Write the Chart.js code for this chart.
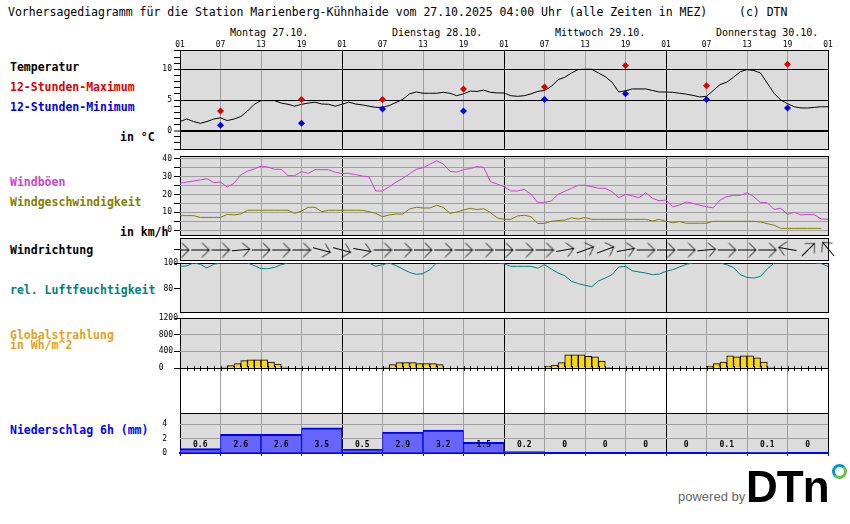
<!DOCTYPE html>
<html>
<head>
<meta charset="utf-8">
<script src="https://cdn.jsdelivr.net/npm/chart.js@4.4.1/dist/chart.umd.min.js"></script>
<style>
body { margin: 0; background: #fff; }
#seite { position: relative; width: 850px; height: 524px; overflow: hidden; font-family: 'DejaVu Sans Mono', monospace; }
#seite canvas { position: absolute; left: 0; }
.txt { position: absolute; white-space: pre; font-size: 11.5px; line-height: 14px; }
.lbl { position: absolute; white-space: pre; font-size: 11.5px; line-height: 14px; font-weight: bold; left: 10px; }
.tag { position: absolute; white-space: pre; font-size: 10px; line-height: 12px; top: 27px; }
</style>
</head>
<body>
<div id="seite">
  <div class="txt" style="left:8px;top:5px">Vorhersagediagramm für die Station Marienberg-Kühnhaide vom 27.10.2025 04:00 Uhr (alle Zeiten in MEZ)</div>
  <div class="txt" style="left:739px;top:5px">(c) DTN</div>

  <div class="tag" style="left:230px">Montag 27.10.</div>
  <div class="tag" style="left:392px">Dienstag 28.10.</div>
  <div class="tag" style="left:555px">Mittwoch 29.10.</div>
  <div class="tag" style="left:716px">Donnerstag 30.10.</div>

  <div class="lbl" style="top:60px;color:#000">Temperatur</div>
  <div class="lbl" style="top:80px;color:#e00000">12-Stunden-Maximum</div>
  <div class="lbl" style="top:100px;color:#0000e0">12-Stunden-Minimum</div>
  <div class="lbl" style="top:130px;left:120px;color:#000">in °C</div>
  <div class="lbl" style="top:175px;color:#cc44cc">Windböen</div>
  <div class="lbl" style="top:195px;color:#808000">Windgeschwindigkeit</div>
  <div class="lbl" style="top:225px;left:120px;color:#000">in km/h</div>
  <div class="lbl" style="top:243px;color:#000">Windrichtung</div>
  <div class="lbl" style="top:283px;color:#008080">rel. Luftfeuchtigkeit</div>
  <div class="lbl" style="top:328px;color:#e8a020">Globalstrahlung</div>
  <div class="lbl" style="top:338px;color:#e8a020">in Wh/m^2</div>
  <div class="lbl" style="top:423px;color:#0000ff">Niederschlag 6h (mm)</div>

  <canvas id="temp" width="850" height="140" style="top:20px"></canvas>
  <canvas id="wind" width="850" height="100" style="top:146px"></canvas>
  <canvas id="richtung" width="850" height="43" style="top:228px"></canvas>
  <canvas id="feuchte" width="850" height="70" style="top:253px"></canvas>
  <canvas id="strahlung" width="850" height="115" style="top:308px"></canvas>
  <canvas id="regen" width="850" height="60" style="top:403px"></canvas>

  <div style="position:absolute;left:678px;top:489px;font:13px 'Liberation Sans',sans-serif;line-height:15px;color:#666">powered by</div>
  <div style="position:absolute;left:746px;top:462px;font:bold 44px 'Liberation Sans',sans-serif;line-height:50px;letter-spacing:-1px;color:#000">DTn</div>
  <div style="position:absolute;left:832px;top:464px;width:9px;height:9px;border-radius:50%;border:3.5px solid;border-color:#0096d6 #6cbd45 #6cbd45 #0096d6"></div>
</div>

<script>
"use strict"

// Stunde 0 = Montag 01:00 MEZ, stündlich bis Freitag 01:00
let temperatur = [1.5, 1.9, 1.5, 1.2, 1.5, 1.9, 2.1, 1.65, 1.9, 2.3,
    3.2, 4.3, 4.9, 4.9, 4.9, 4.5, 4.3, 4.0, 4.3, 4.5,
    4.65, 4.35, 4.3, 4.0, 4.3, 4.65, 4.35, 4.2, 4.0, 3.8,
    3.8, 4.1, 4.6, 5.1, 6.0, 6.3, 6.1, 6.1, 6.1, 6.25,
    6.1, 5.7, 6.0, 6.45, 6.4, 6.6, 6.25, 6.15, 6.15, 5.7,
    5.6, 5.7, 6.0, 6.4, 6.55, 7.2, 8.3, 8.7, 9.4, 9.95,
    10.0, 10.0, 9.4, 8.8, 7.9, 6.3, 6.5, 6.8, 6.8, 6.8,
    6.55, 6.3, 6.3, 6.25, 6.1, 5.95, 5.75, 5.5, 5.6, 6.55,
    7.5, 7.9, 8.7, 9.6, 9.95, 9.8, 9.4, 7.75, 6.1, 5.0,
    4.4, 3.9, 3.7, 3.7, 3.8, 3.9, 3.9]

let extremStunden = [6, 18, 30, 42, 54, 66, 78, 90]
let maximum = [3.2, 5.1, 5.1, 6.8, 7.1, 10.6, 7.3, 10.8]
let minimum = [0.9, 1.2, 3.55, 3.2, 5.1, 6.0, 5.1, 3.7]

let boeen = [26.3, 27, 27.6, 28.2, 28.9, 26.7, 27, 24.2, 26.3, 31,
    33.2, 34.4, 36, 35.5, 34.2, 34.2, 30.6, 30.6, 32.9, 31.9,
    34, 34, 34, 32.5, 31.9, 31.9, 31.2, 30.4, 30, 22,
    22, 24.4, 26.9, 29.1, 31.7, 34.2, 35.1, 37, 39, 37.2,
    33, 32.6, 34, 34.6, 35.7, 35.3, 27.2, 25.9, 24.4, 22,
    22, 22.9, 20.1, 15.6, 15.6, 16.3, 20.1, 21.8, 23.5, 25.2,
    25.2, 24.4, 23.5, 23.5, 21.6, 18.2, 20.1, 19.2, 18.2, 21,
    17.8, 16.5, 16.9, 13.1, 14, 15.8, 15, 14, 13.1, 12.5,
    16.9, 18.8, 19.5, 19.5, 21, 18.8, 15.4, 15.4, 11.6, 12.2,
    8.8, 10, 8.5, 8.8, 8.5, 6.2, 6.0]

let windgeschw = [8.1, 8.1, 8.1, 7.1, 7.1, 7.1, 7.1, 8.8, 8.5, 9.0,
    11.1, 11.1, 11.1, 11.1, 11.1, 11.1, 11.1, 9.4, 10.7, 12.8,
    12.8, 10.3, 11.1, 11.1, 11.1, 11.1, 11.1, 11.1, 10.3, 9.4,
    7.5, 8.5, 9.0, 9.0, 11.8, 12.8, 12.4, 12.4, 13.9, 12.8,
    9.4, 10.1, 11.3, 12.2, 11.5, 12.0, 9.8, 6.8, 6.0, 6.0,
    7.9, 8.3, 7.5, 3.7, 3.7, 4.9, 5.3, 5.6, 6.8, 6.2,
    7.0, 6.0, 6.0, 6.0, 6.0, 6.0, 6.0, 6.0, 6.0, 6.0,
    5.1, 6.0, 4.9, 4.1, 4.7, 3.8, 3.8, 3.8, 3.8, 4.9,
    4.9, 4.9, 4.9, 4.9, 4.9, 4.9, 4.5, 3.6, 2.7, 0.9,
    0.9, 0.9, 0.9, 0.9, 0.9, 0.9]

let windStunden = [0, 3, 6, 9, 12, 15, 18, 21, 24, 27, 30, 33, 36, 39, 42, 45, 48,
    51, 54, 57, 60, 63, 66, 69, 72, 75, 78, 81, 84, 87, 90, 93, 96]
// Richtung, aus der der Wind kommt (Grad)
let windrichtung = [270, 270, 270, 265, 270, 270, 270, 285, 285, 280,
    270, 270, 270, 270, 270, 270, 270, 270, 270, 260,
    250, 250, 260, 270, 270, 270, 265, 270, 270, 270,
    100, 225, 140]

let feuchte = [97.4, 97.7, 100, 99, 96.1, 99, 100, 100, 100, 100,
    100, 98, 95.6, 95.6, 96.6, 98.7, 100, 100, 100, 100,
    100, 100, 100, 100, 100, 100, 100, 100, 100, 97.4,
    98.7, 100, 98, 95.3, 92.7, 91.2, 91.7, 94.8, 100, 100,
    100, 100, 100, 100, 100, 100, 100, 100, 99.5, 97.4,
    97.4, 97.4, 97.4, 95.9, 98.7, 95.3, 92.2, 90.1, 85.7, 84,
    82.6, 81.6, 86, 88.3, 90.9, 96.9, 97.4, 94, 93, 92.2,
    90.9, 91.4, 93.5, 94.8, 96.9, 99, 100, 100, 100, 100,
    100, 98.7, 96.4, 90.9, 88.8, 88.3, 89.6, 95.3, 100, 100,
    100, 100, 100, 100, 100, 99.5, 97.4]

// Globalstrahlung: erste Stunde je Tag und stündliche Werte
let strahlungStart = [6, 30, 54, 78]
let strahlungTage = [
    [24, 56, 105, 177, 194, 194, 194, 145, 97, 24],
    [24, 80, 130, 130, 130, 105, 105, 105, 80],
    [40, 73, 129, 315, 315, 315, 282, 266, 169, 16],
    [48, 105, 145, 290, 266, 290, 290, 242, 145, 24]
]

let regenStunden = [3, 9, 15, 21, 27, 33, 39, 45, 51, 57, 63, 69, 75, 81, 87, 93]
let niederschlag = [0.6, 2.6, 2.6, 3.5, 0.5, 2.9, 3.2, 1.5, 0.2, 0, 0, 0, 0, 0.1, 0.1, 0]

let stundenLabels = ["01", "07", "13", "19"]


Chart.defaults.font.family = "'DejaVu Sans Mono', monospace"
Chart.defaults.color = '#000'

const grau = '#a0a0a0'
const leer = 'rgba(0,0,0,0)'
const tickFont = { size: 8 }
const tagesGitter = c => (c.tick && c.tick.value % 24 === 0) ? '#000' : grau

function xAchse(extra) {
    return Object.assign({
        type: 'linear', min: 0, max: 96, offset: false,
        ticks: { display: false, stepSize: 6 },
        grid: { color: tagesGitter, drawTicks: false, offset: false },
        border: { display: false },
        afterFit: s => { s.height = 0 }
    }, extra || {})
}

function yAchse(min, max, werte, o) {
    return {
        min: min, max: max,
        afterBuildTicks: s => { s.ticks = werte.map(v => ({ value: v })) },
        afterFit: s => { s.width = 180 },
        border: { display: false },
        grid: {
            color: o.farbe, lineWidth: o.breite || 1,
            tickColor: o.tickFarbe || '#000', tickWidth: 1,
            tickLength: o.tickLaenge || 6
        },
        ticks: { font: tickFont, color: '#000', autoSkip: false,
                 padding: o.abstand === undefined ? 2 : o.abstand, callback: o.text }
    }
}

const rahmen = {
    id: 'rahmen',
    beforeDraw(chart, args, o) {
        const a = chart.chartArea, ctx = chart.ctx
        let unten = o.grauBis === undefined ? a.bottom : chart.scales.y.getPixelForValue(o.grauBis)
        ctx.save()
        ctx.fillStyle = '#dcdcdc'
        ctx.fillRect(a.left, a.top, a.right - a.left, unten - a.top)
        ctx.restore()
    },
    beforeDatasetsDraw(chart, args, o) {
        const a = chart.chartArea, ctx = chart.ctx
        ctx.save()
        ctx.strokeStyle = '#000'
        ctx.lineWidth = 1
        ctx.beginPath()
        ctx.moveTo(a.left, a.top + 0.5); ctx.lineTo(a.right + 1, a.top + 0.5)
        if (o.unten !== false) { ctx.moveTo(a.left, a.bottom - 0.5); ctx.lineTo(a.right + 1, a.bottom - 0.5) }
        ctx.stroke()
        ctx.restore()
    }
}

// kleine Stundenstriche auf der Nulllinie der Strahlung
const stundenStriche = {
    id: 'stundenStriche',
    afterDatasetsDraw(chart) {
        const ctx = chart.ctx, x = chart.scales.x, y0 = Math.round(chart.scales.y.getPixelForValue(0))
        ctx.save()
        ctx.strokeStyle = '#000'
        ctx.lineWidth = 1
        ctx.beginPath()
        for (let h = 0; h <= 96; h++) {
            const px = Math.round(x.getPixelForValue(h)) + 0.5
            ctx.moveTo(px, y0 - 2); ctx.lineTo(px, y0 + 3)
        }
        ctx.stroke()
        ctx.restore()
    }
}

const regenText = {
    id: 'regenText',
    afterDatasetsDraw(chart) {
        const ctx = chart.ctx, meta = chart.getDatasetMeta(0)
        const y = chart.scales.y.getPixelForValue(0) - 8
        ctx.save()
        ctx.font = "bold 8px 'DejaVu Sans Mono'"
        ctx.fillStyle = '#000'
        ctx.textAlign = 'center'
        ctx.textBaseline = 'middle'
        meta.data.forEach((bar, i) => {
            let v = niederschlag[i]
            ctx.fillText(v === 0 ? '0' : v.toFixed(1), bar.x, y)
        })
        ctx.restore()
    }
}

function diagramm(id, typ, datasets, scales, rahmenOpt, oben, extraPlugins) {
    return new Chart(document.getElementById(id), {
        type: typ,
        data: { datasets: datasets },
        options: {
            responsive: false, animation: false, events: [],
            layout: { padding: { left: 0, right: 22, top: oben, bottom: 10 } },
            scales: scales,
            plugins: { legend: { display: false }, tooltip: { enabled: false }, rahmen: rahmenOpt }
        },
        plugins: [rahmen].concat(extraPlugins || [])
    })
}

const stunden = arr => arr.map((v, i) => ({ x: i, y: v }))


// Temperatur
diagramm('temp', 'line', [
    { data: stunden(temperatur), borderColor: '#000', borderWidth: 1, pointRadius: 0, tension: 0 },
    { data: extremStunden.map((h, i) => ({ x: h, y: maximum[i] })), showLine: false,
      pointStyle: 'rectRot', pointRadius: 3.5, backgroundColor: '#e00000', borderWidth: 0 },
    { data: extremStunden.map((h, i) => ({ x: h, y: minimum[i] })), showLine: false,
      pointStyle: 'rectRot', pointRadius: 3.5, backgroundColor: '#0000e0', borderWidth: 0 }
], {
    x: xAchse({
        position: 'top',
        ticks: { display: true, stepSize: 6, font: tickFont, color: '#000', padding: 0,
                 maxRotation: 0, autoSkip: false, callback: v => stundenLabels[(v / 6) % 4] },
        afterFit: s => { s.height = 14 }
    }),
    y: yAchse(-3.14, 13.14, [-3, -2, -1, 0, 1, 2, 3, 4, 5, 6, 7, 8, 9, 10, 11, 12, 13], {
        farbe: c => (c.tick && c.tick.value % 5 === 0) ? '#000' : leer,
        breite: c => (c.tick && c.tick.value === 0) ? 2 : 1,
        text: v => v % 5 === 0 ? String(v) : ''
    })
}, {}, 16)

// Wind
diagramm('wind', 'line', [
    { data: stunden(boeen), borderColor: '#cc44cc', borderWidth: 1, pointRadius: 0, tension: 0 },
    { data: stunden(windgeschw), borderColor: '#808000', borderWidth: 1, pointRadius: 0, tension: 0 }
], {
    x: xAchse(),
    y: yAchse(-3.38, 41.69, [0, 5, 10, 15, 20, 25, 30, 35, 40], {
        farbe: grau,
        text: v => v % 10 === 0 ? String(v) : ''
    })
}, {}, 10)

// Windrichtung als Pfeile
const pfeil = document.createElement('canvas')
pfeil.width = 20
pfeil.height = 16
{
    const g = pfeil.getContext('2d')
    g.strokeStyle = '#000'
    g.lineWidth = 1
    g.beginPath()
    g.moveTo(1, 8.5); g.lineTo(19, 8.5)
    g.moveTo(12, 1.5); g.lineTo(19, 8.5); g.lineTo(12, 15.5)
    g.stroke()
}

diagramm('richtung', 'scatter', [
    { data: windStunden.map(h => ({ x: h, y: 0 })), pointStyle: pfeil, pointRadius: 6,
      rotation: c => windrichtung[c.dataIndex] - 270,
      clip: { left: 0, top: 10, right: 8, bottom: 10 } }
], {
    x: xAchse(),
    y: yAchse(-1, 1, [0], { farbe: leer, text: () => '' })
}, {}, 10)

// Luftfeuchtigkeit
diagramm('feuchte', 'line', [
    { data: stunden(feuchte), borderColor: '#008080', borderWidth: 1, pointRadius: 0, tension: 0 }
], {
    x: xAchse(),
    y: yAchse(61.1, 100, [80, 100], { farbe: leer, abstand: -4, text: v => String(v).padEnd(3) })
}, {}, 10)

// Globalstrahlung
let strahlungPunkte = strahlungTage.flatMap((tag, d) =>
    tag.map((v, i) => ({ x: strahlungStart[d] + i + 0.5, y: v })))

diagramm('strahlung', 'bar', [
    { data: strahlungPunkte, backgroundColor: '#fad51a', borderColor: '#000',
      borderWidth: { top: 1, left: 1, right: 1, bottom: 0 }, borderSkipped: false,
      barPercentage: 1, categoryPercentage: 1 }
], {
    x: xAchse(),
    y: yAchse(-1080, 1200, [0, 400, 800, 1200], {
        farbe: c => (c.tick && (c.tick.value === 0 || c.tick.value === 1200)) ? '#000' : grau,
        abstand: -4,
        text: v => String(v).padEnd(4)
    })
}, { grauBis: 0, unten: false }, 10, [stundenStriche])

// Niederschlag
diagramm('regen', 'bar', [
    { data: regenStunden.map((h, i) => ({ x: h, y: niederschlag[i] })),
      backgroundColor: '#6666ff', borderColor: '#0000ee',
      borderWidth: { top: 2, left: 1, right: 1, bottom: 0 }, borderSkipped: false,
      barPercentage: 1, categoryPercentage: 1 }
], {
    x: xAchse({
        grid: { color: tagesGitter, offset: false, drawTicks: true, tickLength: 3, tickColor: '#0000ff' },
        border: { display: true, color: '#0000ff', width: 2 }
    }),
    y: yAchse(0, 5.56, [0, 2, 4], {
        farbe: c => (c.tick && c.tick.value === 0) ? leer : grau,
        tickFarbe: leer, tickLaenge: 11,
        text: v => String(v)
    })
}, { unten: false }, 10, [regenText])
</script>
</body>
</html>
